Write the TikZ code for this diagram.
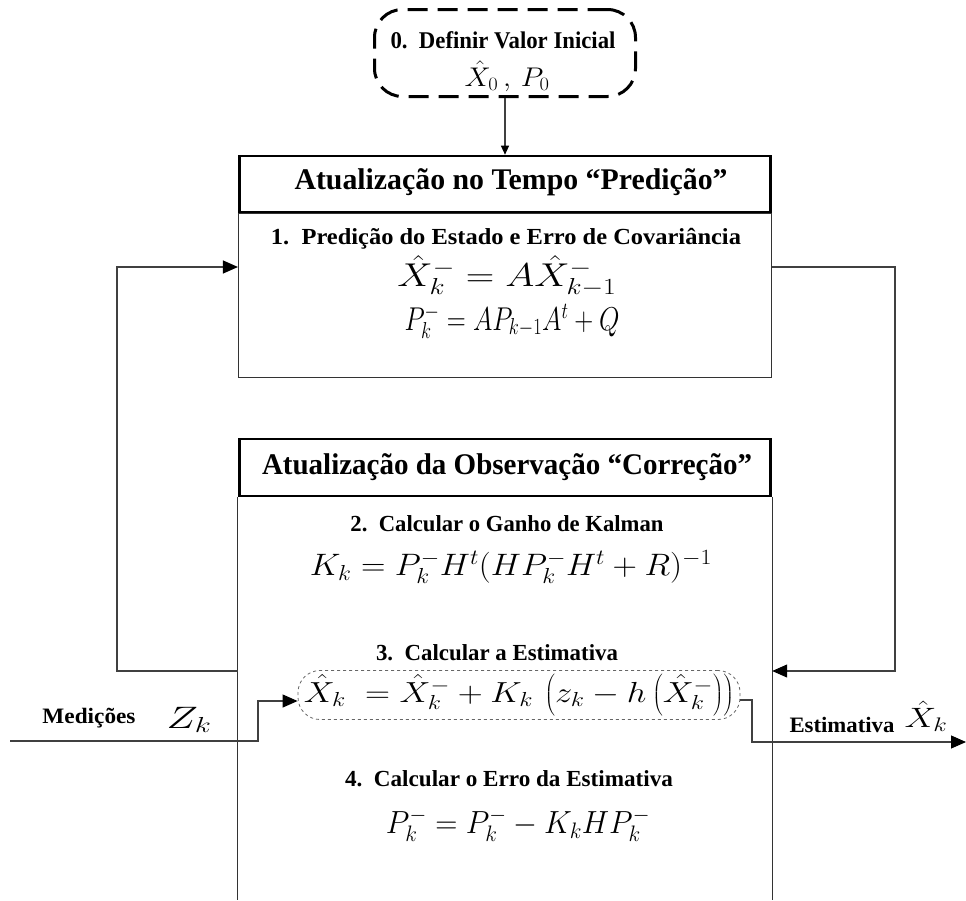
\RequirePackage{fix-cm}
\documentclass[tikz,border=0pt]{standalone}
\usepackage{fontspec}
\setmainfont{Liberation Serif}
\usepackage{graphicx}
\usetikzlibrary{arrows.meta,calc}
\newcommand\tb[3]{{\fontsize{#2}{#2}\selectfont\resizebox{#1pt}{\height}{#3}}}
\begin{document}
\begin{tikzpicture}[x=1pt,y=-1pt,
  thickbox/.style={draw, line width=2.6pt, inner sep=0pt},
  thinbox/.style={draw=black!80, line width=1.1pt, inner sep=0pt},
  conn/.style={draw=black!75, line width=1.1pt},
  arr/.style={conn, -{Triangle[length=15pt,width=13pt,fill=black,color=black]}},
  lbl/.style={inner sep=0pt, font=\bfseries},
  eqn/.style={inner sep=0pt}
]
\useasboundingbox (0,0) rectangle (966,900);

% boxes
\node[draw, line width=3pt, dash pattern=on 20pt off 10pt, rounded corners=28pt,
      minimum width=261pt, minimum height=87pt, inner sep=0pt] (init) at (505,53) {};
\node[thinbox, minimum width=533pt, minimum height=164pt] (predb) at (505,295.5) {};
\node[thickbox, fill=white, minimum width=531pt, minimum height=56pt] (predh) at (505,184) {};
\node[inner sep=0pt, minimum width=534pt, minimum height=403pt] (corrb) at (505,698.5) {};
\draw[thinbox] (corrb.north west) -- (corrb.south west);
\draw[thinbox] (corrb.north east) -- (corrb.south east);
\node[thickbox, fill=white, minimum width=531pt, minimum height=57pt] (corrh) at (505,467.5) {};
\node[draw=black!60, dashed, line width=0.8pt, rounded corners=22pt,
      minimum width=442pt, minimum height=49pt, inner sep=0pt] (est) at (519,695)
      {\tb{430}{29}{$\hat{X}_k \;=\hat{X}_k^- + K_k\,\left(z_k - h\left(\hat{X}_k^-\right)\right)$}};

% texts
\node[lbl] (t0) at (503,40) {\tb{225}{24}{0.\ \ Definir Valor Inicial}};
\node[eqn] (e0) at (507,76) {\tb{85}{27}{$\hat{X}_0 \,,\, P_0$}};
\node[lbl] (th1) at (511,182) {\tb{433}{30}{Atualização no Tempo “Predição”}};
\node[lbl] (s1) at (506,239) {\tb{470}{23}{1.\ \ Predição do Estado e Erro de Covariância}};
\node[eqn] (e1) at (507,276) {\tb{219}{33}{$\hat{X}_k^- = A\hat{X}_{k-1}^-$}};
\node[eqn] (e2) at (512,321) {\tb{215}{33}{$P_k^- = AP_{k-1}A^t + Q$}};
\node[lbl] (th2) at (507,467) {\tb{490}{30}{Atualização da Observação “Correção”}};
\node[lbl] (s2) at (507,524) {\tb{313}{23}{2.\ \ Calcular o Ganho de Kalman}};
\node[eqn] (e3) at (511,567) {\tb{402}{31}{$K_k = P_k^- H^t (H P_k^- H^t + R)^{-1}$}};
\node[lbl] (s3) at (497,653) {\tb{242}{23}{3.\ \ Calcular a Estimativa}};
\node[lbl] (s4) at (509,779) {\tb{328}{23}{4.\ \ Calcular o Erro da Estimativa}};
\node[eqn] (e5) at (518,825) {\tb{264}{32}{$P_k^- = P_k^- - K_k H P_k^-$}};
\node[lbl] (med) at (89,718) {\tb{93}{22}{Medições}};
\node[eqn] (zk) at (189,720) {\tb{45}{31}{$Z_k$}};
\node[lbl] (estl) at (842,725) {\tb{105}{22}{Estimativa}};
\node[eqn] (xk) at (926,716) {\tb{43}{28}{$\hat{X}_k$}};

% connectors
\coordinate (lb) at (117,671);
\coordinate (lt) at (117,267);
\coordinate (rt) at (895,267);
\coordinate (rb) at (895,671);
\coordinate (zin) at (10,741);
\coordinate (zbend) at (258,741);
\coordinate (y701) at (0,701);
\coordinate (y700) at (0,700);
\coordinate (obend) at (752,742);
\coordinate (out) at (966,742);

\draw[conn, -{Triangle[length=9pt,width=8pt,fill=black,color=black]}] (init.south) -- (predh.north);
\draw[arr] (corrb.west |- lb) -- (lb) -- (lt) -- (predb.west |- lt);
\draw[arr] (predb.east |- rt) -- (rt) -- (rb) -- (corrb.east |- rb);
\draw[arr] (zin) -- (zbend) |- (est.west |- y701);
\draw[arr] (est.east |- y700) -| (obend) -- (out);
\end{tikzpicture}
\end{document}
